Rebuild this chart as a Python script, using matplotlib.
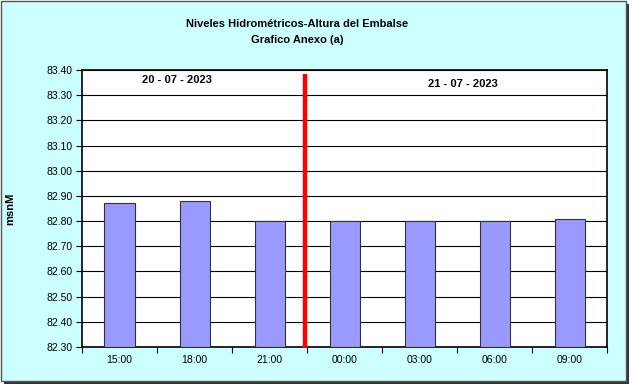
import matplotlib.pyplot as plt
from matplotlib.patches import Rectangle

hours = ['15:00', '18:00', '21:00', '00:00', '03:00', '06:00', '09:00']
levels = [82.87, 82.88, 82.80, 82.80, 82.80, 82.80, 82.81]
y_ticks = [82.30, 82.40, 82.50, 82.60, 82.70, 82.80, 82.90, 83.00, 83.10, 83.20, 83.30, 83.40]
day1 = '20 - 07 - 2023'
day2 = '21 - 07 - 2023'

plt.rcParams['font.family'] = ['Liberation Sans', 'DejaVu Sans']

fig = plt.figure(figsize=(6.33, 3.87), dpi=100)
fig.patch.set_facecolor('white')

# chart area background with border and shadow
W, H = 633.0, 387.0
fig.patches.append(Rectangle((4 / W, 1 - 384 / H), 625 / W, 380 / H, transform=fig.transFigure,
                             facecolor='#333333', edgecolor='none', zorder=-2))
fig.patches.append(Rectangle((1 / W, 1 - 381 / H), 625 / W, 380 / H, transform=fig.transFigure,
                             facecolor='#CCFFFF', edgecolor='#555555', linewidth=1, zorder=-1))

ax = fig.add_axes([82 / W, 1 - 347 / H, 525 / W, 277 / H])
ax.set_zorder(2)
ax.set_facecolor('white')
x = range(len(hours))
ax.bar(x, [v - 82.30 for v in levels], bottom=82.30, width=0.4,
       color='#9999FF', edgecolor='#333333', linewidth=0.8, zorder=3)

ax.set_xlim(-0.5, len(hours) - 0.5)
ax.set_ylim(82.30, 83.40)
ax.set_yticks(y_ticks)
ax.set_yticklabels(['%.2f' % v for v in y_ticks], fontsize=7.5)
ax.set_xticks(x)
ax.set_xticklabels(hours, fontsize=7.5)
ax.tick_params(axis='x', length=0, pad=6)
ax.set_xticks([i - 0.5 for i in range(len(hours) + 1)], minor=True)
ax.tick_params(axis='x', which='minor', length=4, width=0.8, direction='out')
ax.tick_params(axis='y', length=4, width=0.8, direction='out', pad=3)
ax.grid(axis='y', color='black', linewidth=0.8, zorder=0)
for s in ax.spines.values():
    s.set_linewidth(1.2)
    s.set_color('black')

# day separator
ax.plot([2.47, 2.47], [-0.003, 0.986], transform=ax.get_xaxis_transform(),
        color='red', linewidth=3.2, solid_capstyle='butt', clip_on=False, zorder=5)

ax.text(0.77, 83.36, day1, ha='center', va='center', fontsize=8, fontweight='bold', zorder=6)
ax.text(4.58, 83.345, day2, ha='center', va='center', fontsize=8, fontweight='bold', zorder=6)

ax.set_ylabel('msnM', fontsize=8, fontweight='bold', labelpad=22)
fig.text(297 / W, 1 - 24 / H, 'Niveles Hidrométricos-Altura del Embalse', ha='center', va='center',
         fontsize=8, fontweight='bold')
fig.text(297 / W, 1 - 40 / H, 'Grafico Anexo (a)', ha='center', va='center',
         fontsize=8, fontweight='bold')

fig.savefig('out.png', dpi=100)
